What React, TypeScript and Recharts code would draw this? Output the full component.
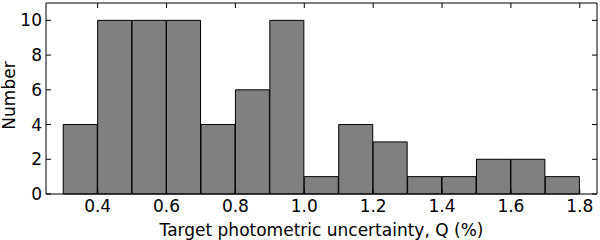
import React from 'react';
import { ComposedChart, Bar, XAxis, YAxis } from 'recharts';

const binCenters = [0.35, 0.45, 0.55, 0.65, 0.75, 0.85, 0.95, 1.05, 1.15, 1.25, 1.35, 1.45, 1.55, 1.65, 1.75];
const counts = [4, 10, 10, 10, 4, 6, 10, 1, 4, 3, 1, 1, 2, 2, 1];
const xTicks = [0.4, 0.6, 0.8, 1.0, 1.2, 1.4, 1.6, 1.8];
const yTicks = [0, 2, 4, 6, 8, 10];
const xDomain = [0.25, 1.85];
const yDomain = [0, 11];

const data = binCenters.map((x, i) => ({ x, n: counts[i] }));

const FONT = 'DejaVu Sans';
const FS = 17;

// layout constants
const W = 600;
const H = 240;
const MARGIN = { top: 3, right: 3, left: 0, bottom: 0 };
const XAXIS_H = 46;
const YAXIS_W = 46;
const PLOT_W = W - MARGIN.left - MARGIN.right - YAXIS_W;
const PLOT_H = H - MARGIN.top - MARGIN.bottom - XAXIS_H;
const TICK = 5;

const BottomTick = (props: any) => {
  const { x, y, payload } = props;
  if (payload.value === xDomain[1]) {
    // right frame border
    return <line x1={x} y1={y} x2={x} y2={y - PLOT_H} stroke="#000" strokeWidth={1} />;
  }
  if (!xTicks.includes(payload.value)) return <g />;
  return (
    <g>
      <line x1={x} y1={y} x2={x} y2={y - TICK} stroke="#000" strokeWidth={1} />
      <line x1={x} y1={y - PLOT_H} x2={x} y2={y - PLOT_H + TICK} stroke="#000" strokeWidth={1} />
      <text x={x} y={y + 18} textAnchor="middle" fontFamily={FONT} fontSize={FS} fill="#000">
        {Number(payload.value).toFixed(1)}
      </text>
    </g>
  );
};

const LeftTick = (props: any) => {
  const { x, y, payload } = props;
  if (payload.value === yDomain[1]) {
    // top frame border
    return <line x1={x} y1={y} x2={x + PLOT_W} y2={y} stroke="#000" strokeWidth={1} />;
  }
  if (!yTicks.includes(payload.value)) return <g />;
  return (
    <g>
      <line x1={x} y1={y} x2={x + TICK} y2={y} stroke="#000" strokeWidth={1} />
      <line x1={x + PLOT_W} y1={y} x2={x + PLOT_W - TICK} y2={y} stroke="#000" strokeWidth={1} />
      <text x={x - 4} y={y + 6} textAnchor="end" fontFamily={FONT} fontSize={FS} fill="#000">
        {payload.value}
      </text>
    </g>
  );
};

const YLabel = (props: any) => {
  const vb = props.viewBox || { x: 0, y: 0, width: 46, height: 190 };
  const cx = vb.x + 14.5;
  const cy = vb.y + vb.height / 2 - 3;
  return (
    <text
      x={cx}
      y={cy}
      transform={`rotate(-90, ${cx}, ${cy})`}
      textAnchor="middle"
      fontFamily={FONT}
      fontSize={FS}
      fill="#000"
    >
      Number
    </text>
  );
};

const XLabel = (props: any) => {
  const vb = props.viewBox || { x: 46, y: 193, width: 550, height: 46 };
  const cx = vb.x + vb.width / 2;
  const cy = vb.y + 42;
  return (
    <text x={cx} y={cy} textAnchor="middle" fontFamily={FONT} fontSize={FS} fill="#000">
      Target photometric uncertainty, Q (%)
    </text>
  );
};

export default function App() {
  return (
    <div style={{ position: 'fixed', left: 0, top: 0, width: W, height: H, background: '#fff' }}>
      <ComposedChart
        width={W}
        height={H}
        data={data}
        margin={MARGIN}
        barCategoryGap={0}
        barGap={0}
      >
        <XAxis
          xAxisId="b"
          dataKey="x"
          type="number"
          domain={xDomain}
          ticks={[...xTicks, xDomain[1]]}
          allowDataOverflow
          height={XAXIS_H}
          tickSize={0}
          tickMargin={0}
          tick={<BottomTick />}
          axisLine={{ stroke: '#000', strokeWidth: 1 }}
          tickLine={false}
          interval={0}
          label={<XLabel />}
        />
        <YAxis
          yAxisId="l"
          type="number"
          domain={yDomain}
          ticks={[...yTicks, yDomain[1]]}
          width={YAXIS_W}
          tickSize={0}
          tickMargin={0}
          tick={<LeftTick />}
          tickLine={false}
          axisLine={{ stroke: '#000', strokeWidth: 1 }}
          interval={0}
          label={<YLabel />}
        />
        <Bar
          xAxisId="b"
          yAxisId="l"
          dataKey="n"
          fill="#808080"
          stroke="#000"
          strokeWidth={1}
          isAnimationActive={false}
        />
      </ComposedChart>
    </div>
  );
}
